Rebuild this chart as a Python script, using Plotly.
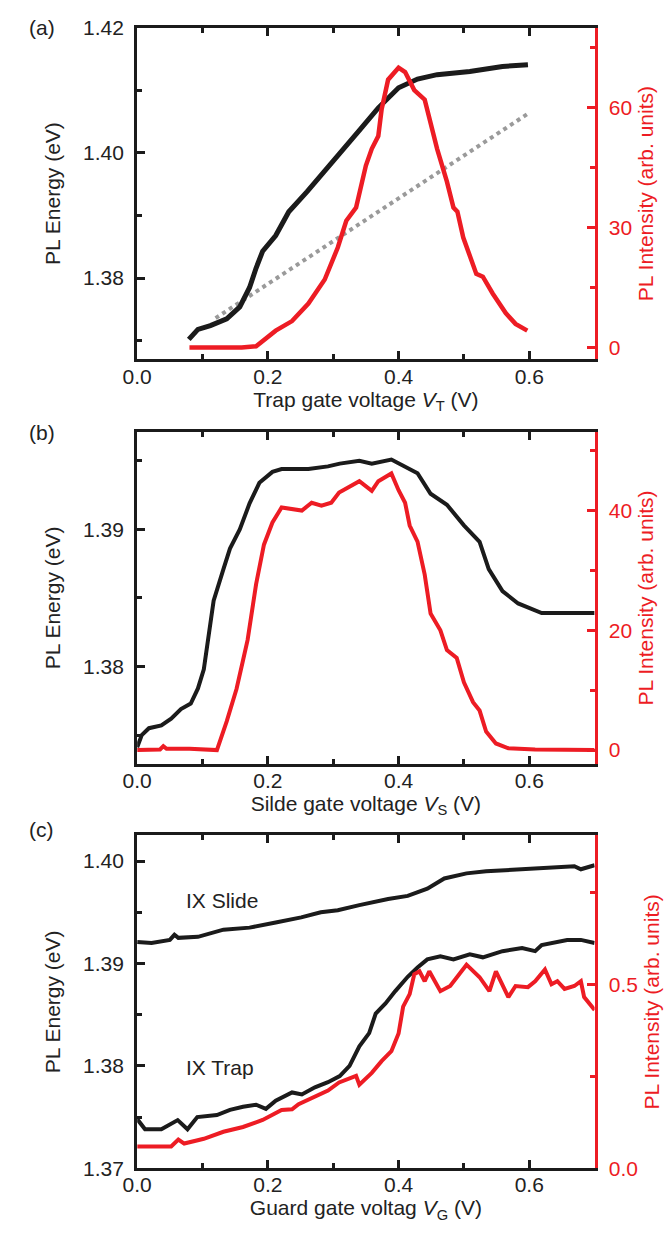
import plotly.graph_objects as go

# ---------------- (a) trap gate sweep ----------------
trap_vt = [0.079, 0.093, 0.112, 0.137, 0.157, 0.167, 0.172, 0.182, 0.192, 0.212, 0.232,
           0.26, 0.285, 0.31, 0.34, 0.369, 0.40, 0.429, 0.459, 0.509, 0.524, 0.559, 0.598]
trap_energy = [1.3702, 1.3718, 1.3724, 1.3735, 1.3754, 1.3773, 1.3785, 1.3816, 1.3843, 1.3868, 1.3906,
               1.3938, 1.3968, 1.4000, 1.4036, 1.4072, 1.4104, 1.4118, 1.4125, 1.4130, 1.4133, 1.4138, 1.4141]

trap_int_vt = [0.08, 0.12, 0.16, 0.182, 0.212, 0.237, 0.262, 0.287, 0.307, 0.32, 0.33, 0.335, 0.35,
               0.359, 0.369, 0.374, 0.384, 0.40, 0.41, 0.424, 0.44, 0.459, 0.474, 0.484, 0.49,
               0.499, 0.519, 0.529, 0.544, 0.564, 0.579, 0.597]
trap_intensity = [0.0, 0.0, 0.0, 0.3, 4.2, 6.6, 11.0, 17.0, 25.0, 31.7, 34.0, 35.0, 45.5,
                  49.7, 52.9, 59.5, 67.0, 70.0, 68.9, 64.4, 62.0, 49.7, 41.5, 35.0, 34.0,
                  27.5, 18.4, 17.7, 13.5, 8.6, 5.9, 4.2]

# linear guide through the low-voltage part
guide_vt = [0.12, 0.60]
guide_energy = [1.3736, 1.4064]

# ---------------- (b) slide gate sweep ----------------
slide_vs = [0.0, 0.007, 0.018, 0.037, 0.052, 0.067, 0.082, 0.093, 0.102, 0.107, 0.117, 0.132,
            0.142, 0.157, 0.172, 0.187, 0.207, 0.221, 0.262, 0.292, 0.31, 0.34, 0.359, 0.389,
            0.41, 0.429, 0.449, 0.474, 0.50, 0.524, 0.538, 0.559, 0.583, 0.619, 0.658, 0.70]
slide_energy = [1.3741, 1.3750, 1.3755, 1.3757, 1.3762, 1.3769, 1.3773, 1.3784, 1.3798, 1.3815, 1.3848, 1.3871,
                1.3886, 1.3900, 1.3919, 1.3934, 1.3942, 1.3944, 1.3944, 1.3946, 1.3948, 1.3950, 1.3948, 1.3951,
                1.3946, 1.3941, 1.3926, 1.3918, 1.3903, 1.3891, 1.3871, 1.3855, 1.3846, 1.3839, 1.3839, 1.3839]

slide_int_vs = [0.0, 0.035, 0.04, 0.045, 0.08, 0.122, 0.137, 0.152, 0.162, 0.169, 0.182, 0.194,
                0.207, 0.221, 0.252, 0.267, 0.282, 0.297, 0.309, 0.325, 0.34, 0.359, 0.369, 0.389,
                0.40, 0.41, 0.417, 0.429, 0.44, 0.449, 0.464, 0.474, 0.489, 0.50, 0.514, 0.524,
                0.534, 0.549, 0.568, 0.609, 0.70]
slide_intensity = [0.0, 0.1, 0.65, 0.2, 0.2, 0.0, 4.8, 10.2, 15.0, 18.4, 27.7, 34.3,
                   38.0, 40.5, 40.0, 41.3, 40.8, 41.3, 43.0, 44.0, 44.9, 43.3, 44.9, 46.2,
                   43.4, 41.3, 37.5, 34.8, 29.3, 22.8, 20.0, 16.7, 15.4, 11.3, 8.0, 6.6,
                   3.1, 1.1, 0.3, 0.1, 0.0]

# ---------------- (c) guard gate sweep ----------------
guard_slide_vg = [0.0, 0.022, 0.05, 0.057, 0.063, 0.093, 0.132, 0.172, 0.212, 0.251, 0.281, 0.307,
                  0.34, 0.384, 0.414, 0.444, 0.47, 0.504, 0.534, 0.583, 0.634, 0.669, 0.679, 0.70]
guard_slide_energy = [1.3921, 1.3920, 1.3923, 1.3928, 1.3925, 1.3926, 1.3933, 1.3935, 1.3940, 1.3945, 1.3950, 1.3952,
                      1.3957, 1.3963, 1.3966, 1.3973, 1.3983, 1.3988, 1.3990, 1.3992, 1.3994, 1.3995, 1.3992, 1.3996]

guard_trap_vg = [0.0, 0.012, 0.037, 0.057, 0.062, 0.077, 0.092, 0.122, 0.142, 0.162, 0.182, 0.197,
                 0.212, 0.237, 0.252, 0.272, 0.292, 0.31, 0.325, 0.34, 0.355, 0.365, 0.38, 0.395,
                 0.414, 0.429, 0.444, 0.464, 0.484, 0.509, 0.529, 0.559, 0.589, 0.609, 0.619, 0.658,
                 0.679, 0.70]
guard_trap_energy = [1.3748, 1.3738, 1.3738, 1.3745, 1.3747, 1.3738, 1.3750, 1.3752, 1.3757, 1.3760, 1.3762, 1.3758,
                     1.3766, 1.3774, 1.3772, 1.3779, 1.3784, 1.3790, 1.3800, 1.3819, 1.3832, 1.3851, 1.3861, 1.3873,
                     1.3887, 1.3896, 1.3904, 1.3907, 1.3904, 1.3909, 1.3906, 1.3912, 1.3915, 1.3912, 1.3918, 1.3923,
                     1.3923, 1.3920]

guard_int_vg = [0.0, 0.052, 0.063, 0.072, 0.102, 0.132, 0.162, 0.192, 0.221, 0.237, 0.247, 0.272,
                0.292, 0.309, 0.32, 0.335, 0.34, 0.359, 0.374, 0.389, 0.40, 0.407, 0.417, 0.424,
                0.432, 0.44, 0.447, 0.464, 0.479, 0.504, 0.524, 0.539, 0.549, 0.568, 0.579, 0.598,
                0.609, 0.624, 0.634, 0.643, 0.654, 0.669, 0.679, 0.684, 0.70]
guard_intensity = [0.059, 0.059, 0.078, 0.067, 0.080, 0.099, 0.112, 0.131, 0.158, 0.160, 0.174, 0.193,
                   0.211, 0.233, 0.241, 0.251, 0.227, 0.259, 0.291, 0.318, 0.366, 0.439, 0.473, 0.527,
                   0.535, 0.508, 0.535, 0.481, 0.495, 0.553, 0.519, 0.481, 0.535, 0.465, 0.495, 0.492,
                   0.508, 0.540, 0.500, 0.508, 0.487, 0.495, 0.508, 0.465, 0.430]

x_ticks = [0.0, 0.2, 0.4, 0.6]

BLACK = "#1b1b1b"
RED = "#ED1C24"
GRAY = "#9a9a9a"
FONT = "Liberation Sans, Arial, sans-serif"
FS = 21

fig = go.Figure()

def line(x, y, color, xa, ya, width=4.5, dash="solid"):
    fig.add_trace(go.Scatter(x=x, y=y, mode="lines", xaxis=xa, yaxis=ya,
                             line=dict(color=color, width=width, dash=dash),
                             showlegend=False, hoverinfo="skip"))

# (a)
line(guide_vt, guide_energy, GRAY, "x", "y", width=4, dash="dot")
line(trap_vt, trap_energy, BLACK, "x", "y", width=5)
line(trap_int_vt, trap_intensity, RED, "x", "y2")
# (b)
line(slide_vs, slide_energy, BLACK, "x2", "y3", width=4)
line(slide_int_vs, slide_intensity, RED, "x2", "y4", width=4)
# (c)
line(guard_slide_vg, guard_slide_energy, BLACK, "x3", "y5", width=4)
line(guard_trap_vg, guard_trap_energy, BLACK, "x3", "y5", width=4)
line(guard_int_vg, guard_intensity, RED, "x3", "y6", width=4)

XDOM = [125 / 664, 593 / 664]
YDOMS = [[1 - 354 / 1244, 1 - 16 / 1244],
         [1 - 766 / 1244, 1 - 428 / 1244],
         [1 - 1178 / 1244, 1 - 839 / 1244]]

def xaxis(dom_anchor, title):
    return dict(domain=XDOM, anchor=dom_anchor, range=[0, 0.7],
                tickvals=x_ticks, tickformat=".1f",
                ticks="inside", ticklen=8, tickwidth=2.5, tickcolor=BLACK,
                minor=dict(dtick=0.1, tick0=0, ticks="inside", ticklen=5, tickwidth=2.5, tickcolor=BLACK),
                showline=True, linewidth=3, linecolor=BLACK, mirror="ticks",
                showgrid=False, zeroline=False, ticklabelstandoff=-4,
                tickfont=dict(family=FONT, size=FS, color="#222"),
                title=dict(text=title, font=dict(family=FONT, size=FS, color="#222"), standoff=0))

def yleft(dom, anchor, rng, vals, fmt, mdt, mt0):
    return dict(domain=dom, anchor=anchor, range=rng, tickvals=vals, tickformat=fmt,
                ticks="inside", ticklen=8, tickwidth=2.5, tickcolor=BLACK,
                minor=dict(dtick=mdt, tick0=mt0, ticks="inside", ticklen=5, tickwidth=2.5, tickcolor=BLACK),
                showline=True, linewidth=3, linecolor=BLACK, showgrid=False, zeroline=False,
                ticklabelstandoff=6,
                tickfont=dict(family=FONT, size=FS, color="#222"),
                title=dict(text="PL Energy (eV)", font=dict(family=FONT, size=FS, color="#222"), standoff=17))

def yright(anchor, over, rng, vals, fmt, mdt):
    return dict(anchor=anchor, overlaying=over, side="right", range=rng, tickvals=vals, tickformat=fmt,
                ticks="inside", ticklen=8, tickwidth=2.5, tickcolor=RED,
                minor=dict(dtick=mdt, tick0=0, ticks="inside", ticklen=5, tickwidth=2.5, tickcolor=RED),
                showline=True, linewidth=3, linecolor=RED, showgrid=False, zeroline=False,
                ticklabelstandoff=7,
                tickfont=dict(family=FONT, size=FS, color=RED),
                title=dict(text="PL Intensity (arb. units)", font=dict(family=FONT, size=FS, color=RED), standoff=8))

fig.update_layout(
    width=664, height=1244, margin=dict(l=0, r=0, t=0, b=0),
    paper_bgcolor="white", plot_bgcolor="white", showlegend=False,
    font=dict(family=FONT, size=FS, color="#222"),
    xaxis=xaxis("y", "Trap gate voltage <i>V</i><sub>T</sub> (V)"),
    xaxis2=xaxis("y3", "Silde gate voltage <i>V</i><sub>S</sub> (V)"),
    xaxis3=xaxis("y5", "Guard gate voltag <i>V</i><sub>G</sub> (V)"),
    yaxis=yleft(YDOMS[0], "x", [1.367, 1.42], [1.38, 1.40, 1.42], ".2f", 0.01, 1.37),
    yaxis2=yright("x", "y", [-3, 80], [0, 30, 60], "d", 15),
    yaxis3=yleft(YDOMS[1], "x2", [1.3729, 1.3971], [1.38, 1.39], ".2f", 0.005, 1.375),
    yaxis4=yright("x2", "y3", [-2.3, 53.1], [0, 20, 40], "d", 10),
    yaxis5=yleft(YDOMS[2], "x3", [1.37, 1.4025], [1.37, 1.38, 1.39, 1.40], ".2f", 0.005, 1.37),
    yaxis6=yright("x3", "y5", [0, 0.904], [0.0, 0.5], ".1f", 0.25),
)

panel_labels = [("(a)", 16), ("(b)", 428), ("(c)", 833)]
for txt, ypx in panel_labels:
    fig.add_annotation(text=txt, xref="paper", yref="paper", x=12 / 664, y=1 - ypx / 1244,
                       xanchor="left", yanchor="middle", showarrow=False,
                       font=dict(family=FONT, size=FS, color="#222"))

fig.add_annotation(text="IX Slide", xref="x3", yref="y5", x=0.072, y=1.39615,
                   xanchor="left", yanchor="middle", showarrow=False,
                   font=dict(family=FONT, size=FS, color="#222"))
fig.add_annotation(text="IX Trap", xref="x3", yref="y5", x=0.072, y=1.3798,
                   xanchor="left", yanchor="middle", showarrow=False,
                   font=dict(family=FONT, size=FS, color="#222"))

fig.write_html("out.html")
